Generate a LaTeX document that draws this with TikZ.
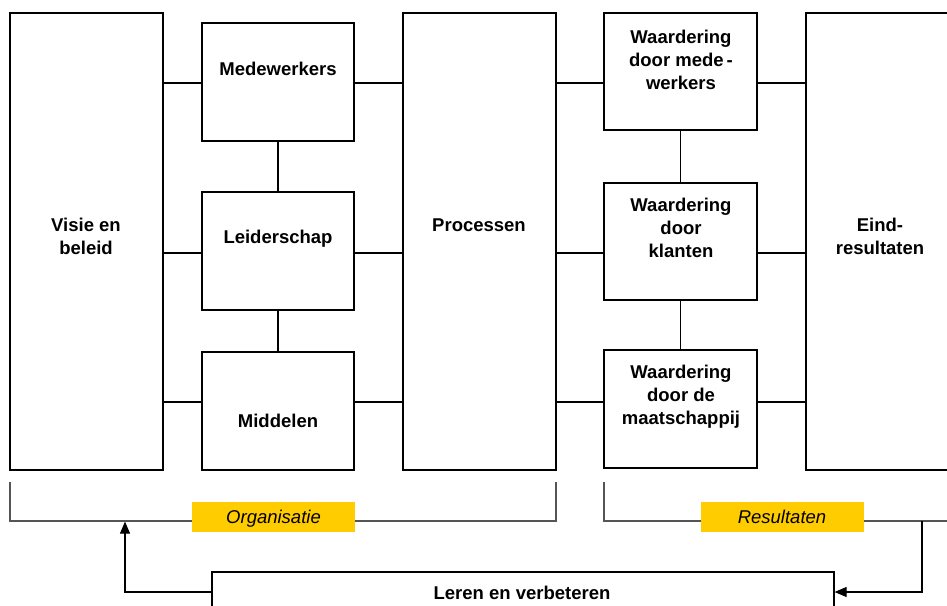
\documentclass[tikz,border=0pt]{standalone}
\usepackage{fontspec}
\setmainfont{Liberation Sans}
\usetikzlibrary{arrows.meta}
\definecolor{labelyellow}{HTML}{FFCC00}
\definecolor{brackgray}{HTML}{555555}
\tikzset{
  box/.style={draw=black, line width=1.2pt, fill=white, inner sep=0pt},
  lbl/.style={font=\fontsize{18.5}{23}\selectfont\bfseries, align=center, inner sep=0pt},
  conn/.style={draw=black, line width=1.1pt},
  brack/.style={draw=brackgray, line width=1.2pt},
  tag/.style={fill=labelyellow, inner sep=0pt, minimum width=163pt, minimum height=30pt, text depth=0pt, font=\fontsize{18.5}{23}\selectfont\itshape},
  fb/.style={draw=black, line width=1.1pt, -{Triangle[length=12pt,width=10pt]}}
}
\begin{document}
\begin{tikzpicture}[x=1pt,y=-1pt]
\useasboundingbox (0,0) rectangle (947,605);
\clip (0,0) rectangle (947,605);
% row coordinates
\coordinate (r1) at (0,83);
\coordinate (r2) at (0,253);
\coordinate (r3) at (0,402);
% boxes
\node[box, minimum width=153pt, minimum height=457pt] (visie) at (86.5,241.5) {};
\node[box, minimum width=152pt, minimum height=118pt] (med) at (278,82) {};
\node[box, minimum width=152pt, minimum height=118pt] (leid) at (278,251) {};
\node[box, minimum width=152pt, minimum height=118pt] (midd) at (278,411) {};
\node[box, minimum width=153pt, minimum height=457pt] (proc) at (479.5,241.5) {};
\node[box, minimum width=153pt, minimum height=117pt] (wmed) at (680.5,71.5) {};
\node[box, minimum width=153pt, minimum height=117pt] (wkl) at (680.5,241.5) {};
\node[box, minimum width=153pt, minimum height=118pt] (wmaat) at (680.5,409) {};
\node[box, minimum width=190pt, minimum height=457pt] (eind) at (901,241.5) {};
\node[box, minimum width=622pt, minimum height=50pt] (leren) at (523,597) {};
% labels
\node[lbl] (tvisie) at (86,236) {Visie en\\beleid};
\node[lbl] (tmed) at (278,69) {Medewerkers};
\node[lbl] (tleid) at (278,239) {Leiderschap};
\node[lbl] (tmidd) at (278,421) {Middelen};
\node[lbl] (tproc) at (479,225) {Processen};
\node[lbl] (twmed) at (681,60) {Waardering\\door mede\,-\\werkers};
\node[lbl] (twkl) at (681,228) {Waardering\\door\\klanten};
\node[lbl] (twmaat) at (681,397) {Waardering\\door de\\maatschappij};
\node[lbl] (teind) at (880,236) {Eind-\\resultaten};
\node[lbl] (tleren) at (522,593) {Leren en verbeteren};
% connectors
\draw[conn] (visie.east |- r1) -- (med.west |- r1);
\draw[conn] (visie.east |- r2) -- (leid.west |- r2);
\draw[conn] (visie.east |- r3) -- (midd.west |- r3);
\draw[conn] (med.east |- r1) -- (proc.west |- r1);
\draw[conn] (leid.east |- r2) -- (proc.west |- r2);
\draw[conn] (midd.east |- r3) -- (proc.west |- r3);
\draw[conn] (med.south) -- (leid.north);
\draw[conn] (leid.south) -- (midd.north);
\draw[conn] (proc.east |- r1) -- (wmed.west |- r1);
\draw[conn] (proc.east |- r2) -- (wkl.west |- r2);
\draw[conn] (proc.east |- r3) -- (wmaat.west |- r3);
\draw[conn] (wmed.east |- r1) -- (eind.west |- r1);
\draw[conn] (wkl.east |- r2) -- (eind.west |- r2);
\draw[conn] (wmaat.east |- r3) -- (eind.west |- r3);
\draw[conn] (wmed.south) -- (wkl.north);
\draw[conn] (wkl.south) -- (wmaat.north);
% brackets
\coordinate (oa) at (10,482);
\coordinate (ob) at (10,521);
\coordinate (oc) at (556,521);
\coordinate (od) at (556,482);
\draw[brack] (oa) -- (ob) -- (oc) -- (od);
\coordinate (ra) at (604,482);
\coordinate (rb) at (604,521);
\coordinate (rc) at (960,521);
\draw[brack] (ra) -- (rb) -- (rc);
\node[tag] (org) at (273.5,517) {Organisatie};
\node[tag] (res) at (782,517) {Resultaten};
% feedback arrows
\coordinate (rs) at (922,521);
\coordinate (os) at (125,521.6);
\draw[fb] (rs) |- (leren.east |- 0,592);
\draw[fb] (leren.west |- 0,592) -| (os);
\end{tikzpicture}
\end{document}
